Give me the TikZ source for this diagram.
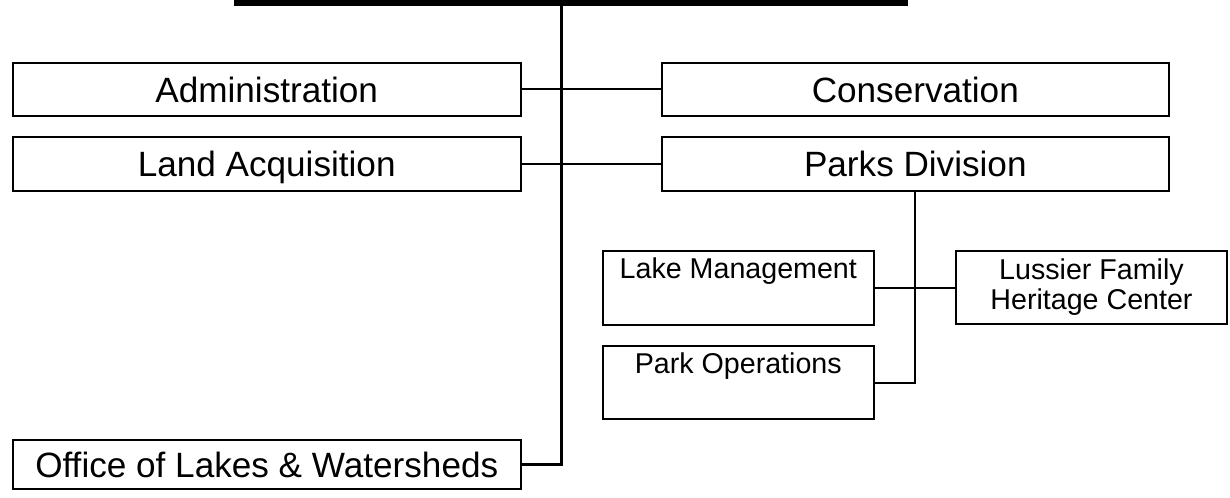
\documentclass[tikz,border=0pt]{standalone}
\usepackage{fontspec}
\setmainfont{Liberation Sans}
\usetikzlibrary{calc}

\begin{document}
\begin{tikzpicture}[x=0.02cm,y=-0.02cm,
  bigbox/.style={draw,line width=1.1pt,rectangle,inner sep=0pt,
    text height=14.5pt,text depth=0pt,font=\fontsize{20}{24}\selectfont},
  smallbox/.style={draw,line width=1.1pt,rectangle,inner sep=0pt,align=center,
    font=\fontsize{16.3}{17}\selectfont},
  link/.style={line width=1.1pt},
  trunk/.style={line width=1.7pt}]
  \useasboundingbox (0,0) rectangle (1230,497);
  % 顶部横条（上级框的底边）
  \fill (234,0) rectangle (908,5.5);
  \coordinate (top) at (561,5);
  % 第一层
  \node[bigbox,minimum width=10.16cm,minimum height=1.07cm] (admin) at (266.7,89.3) {Administration};
  \node[bigbox,minimum width=10.15cm,minimum height=1.07cm] (cons)  at (915.3,89.3) {Conservation};
  \node[bigbox,minimum width=10.16cm,minimum height=1.08cm] (land)  at (266.7,163.8) {Land Acquisition};
  \node[bigbox,minimum width=10.15cm,minimum height=1.08cm] (parks) at (915.3,163.8) {Parks Division};
  \node[bigbox,minimum width=10.16cm,minimum height=0.98cm] (office) at (266.7,464.5) {Office of Lakes \& Watersheds};
  % 公园处下属
  \node[smallbox,minimum width=5.43cm,minimum height=1.48cm] (lake)    at (738.3,288) {Lake Management\\\strut};
  \node[smallbox,minimum width=5.42cm,minimum height=1.46cm] (lussier) at (1091.5,287.5) {Lussier Family\\Heritage Center};
  \node[smallbox,minimum width=5.43cm,minimum height=1.46cm] (parkops) at (738.3,382.7) {Park Operations\\\strut};
  % 连线
  \draw[trunk] (top) -- (top |- office.east) -- (office.east);
  \draw[link] (admin.east) -- (cons.west);
  \draw[link] (land.east) -- (parks.west);
  \draw[link] (parks.south) -- (parks.south |- parkops.east) -- (parkops.east);
  \draw[link] (lake.east) -- (lake.east -| lussier.west);
\end{tikzpicture}
\end{document}
